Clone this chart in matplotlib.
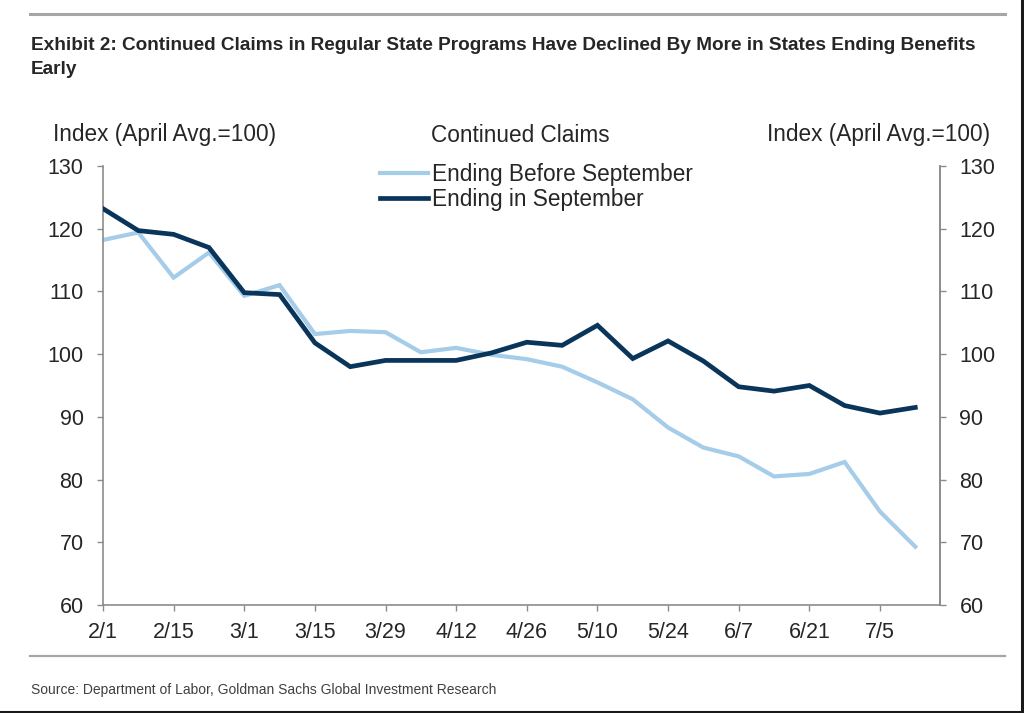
import matplotlib
matplotlib.use("Agg")
import matplotlib.pyplot as plt
from matplotlib.lines import Line2D

plt.rcParams['font.family'] = ['Liberation Sans', 'DejaVu Sans']

weeks = ["2/1", "2/8", "2/15", "2/22", "3/1", "3/8", "3/15", "3/22", "3/29", "4/5",
         "4/12", "4/19", "4/26", "5/3", "5/10", "5/17", "5/24", "5/31", "6/7", "6/14",
         "6/21", "6/28", "7/5", "7/12"]
ending_before_sept = [118.2, 119.4, 112.2, 116.2, 109.3, 111.0, 103.2, 103.7, 103.5, 100.3,
                      101.0, 99.9, 99.2, 98.0, 95.5, 92.8, 88.3, 85.1, 83.7, 80.5,
                      80.9, 82.8, 74.9, 69.3]
ending_in_sept = [123.2, 119.7, 119.1, 117.0, 109.8, 109.5, 101.8, 98.0, 99.0, 99.0,
                  99.0, 100.2, 101.9, 101.4, 104.6, 99.3, 102.1, 98.9, 94.8, 94.1,
                  95.0, 91.8, 90.6, 91.5]
series_names = ["Ending Before September", "Ending in September"]
yticks = [60, 70, 80, 90, 100, 110, 120, 130]

LIGHT = "#A5CCE8"
DARK = "#0A355A"
GRAY = "#8C8C8C"
TXT = "#262626"
TICK_FS = 15.5
TEXT_FS = 16.3

fig = plt.figure(figsize=(10.24, 7.13), dpi=100)
ax = fig.add_axes([103/1024, 1 - 605/713, (940 - 103)/1024, (605 - 166)/713])

x = list(range(len(weeks)))
ax.plot(x, ending_before_sept, color=LIGHT, lw=3.0, solid_joinstyle='miter', zorder=2)
ax.plot(x, ending_in_sept, color=DARK, lw=3.4, solid_joinstyle='miter', zorder=3)

ax.set_xlim(0, 23.7)
ax.set_ylim(60, 130)
ax.set_yticks(yticks)
ax.set_xticks(x[::2])
ax.set_xticklabels(weeks[::2])

ax.spines['top'].set_visible(False)
for s in ['left', 'bottom', 'right']:
    ax.spines[s].set_color(GRAY)
    ax.spines[s].set_linewidth(1.2)

ax.tick_params(axis='both', colors=GRAY, labelcolor=TXT, labelsize=TICK_FS, length=4, width=1)
ax.tick_params(axis='x', pad=8)
ax.tick_params(axis='y', pad=10)

ax2 = ax.twinx()
ax2.set_ylim(60, 130)
ax2.set_yticks(yticks)
for s in ['top', 'left', 'bottom']:
    ax2.spines[s].set_visible(False)
ax2.spines['right'].set_color(GRAY)
ax2.spines['right'].set_linewidth(1.2)
ax2.tick_params(axis='y', colors=GRAY, labelcolor=TXT, labelsize=TICK_FS, length=4, width=1, pad=10)

handles = [Line2D([], [], color=LIGHT, lw=3.0), Line2D([], [], color=DARK, lw=3.4)]
leg = fig.legend(handles, series_names, loc='upper left', bbox_to_anchor=(380/1024, 1 - 163/713),
                 frameon=False, fontsize=TEXT_FS, handlelength=2.1, handletextpad=0.18,
                 labelspacing=0.09, borderaxespad=0, borderpad=0)
for t in leg.get_texts():
    t.set_color(TXT)

fig.text(53/1024, 1 - 135/713, "Index (April Avg.=100)", fontsize=TEXT_FS, color=TXT, va='center', ha='left')
fig.text(990/1024, 1 - 135/713, "Index (April Avg.=100)", fontsize=TEXT_FS, color=TXT, va='center', ha='right')
fig.text(520/1024, 1 - 135/713, "Continued Claims", fontsize=TEXT_FS, color=TXT, va='center', ha='center')

title_fam = ['Liberation Sans Narrow', 'Liberation Sans', 'DejaVu Sans']
fig.text(31/1024, 1 - 45/713,
         "Exhibit 2: Continued Claims in Regular State Programs Have Declined By More in States Ending Benefits",
         fontsize=13.7, fontweight='bold', family=title_fam, color=TXT, va='center', ha='left')
fig.text(31/1024, 1 - 70/713, "Early", fontsize=13.7, fontweight='bold', family=title_fam,
         color=TXT, va='center', ha='left')
fig.text(31/1024, 1 - 690/713, "Source: Department of Labor, Goldman Sachs Global Investment Research",
         fontsize=10, family=title_fam, color="#404040", va='center', ha='left')

fig.add_artist(Line2D([30/1024, 1005/1024], [1 - 14/713, 1 - 14/713], color="#A6A6A6", lw=2.2))
fig.add_artist(Line2D([30/1024, 1005/1024], [1 - 656/713, 1 - 656/713], color="#A6A6A6", lw=1.6))
# dark frame at right and bottom edge of the image
fig.add_artist(Line2D([0, 1], [1.5/713, 1.5/713], color="#1A1A1A", lw=2.2))
fig.add_artist(Line2D([1 - 2/1024, 1 - 2/1024], [0, 1], color="#1A1A1A", lw=2.2))

fig.savefig("out.png", dpi=100)
